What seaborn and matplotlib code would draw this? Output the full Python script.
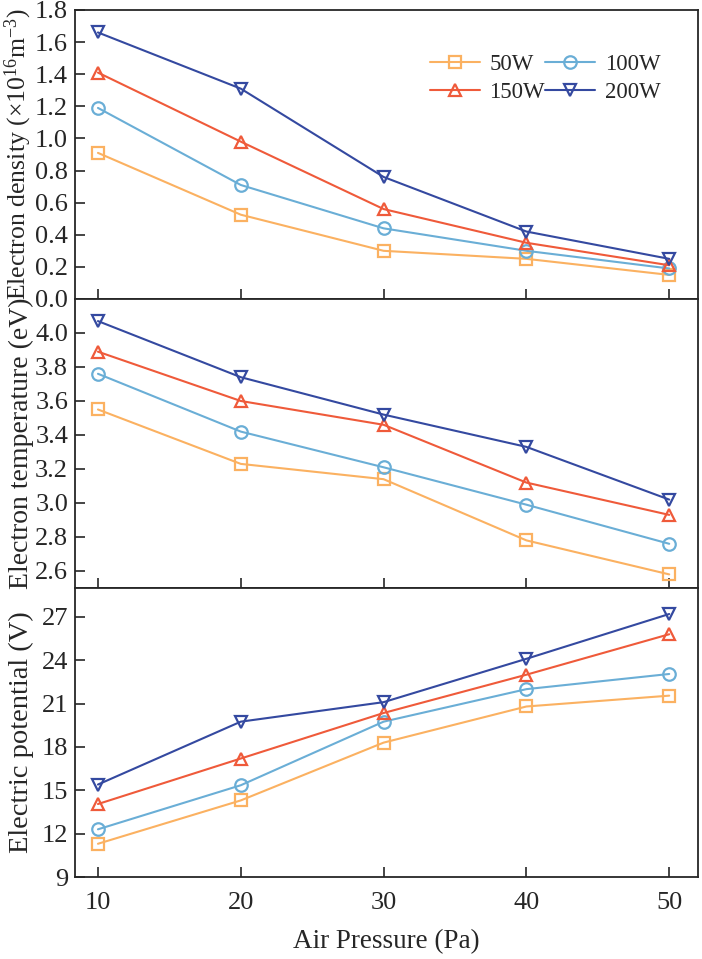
import pandas as pd
import seaborn as sns
import matplotlib.pyplot as plt

pressure = [10, 20, 30, 40, 50]
powers = ['50W', '100W', '150W', '200W']

density = {
    '50W': [0.91, 0.525, 0.30, 0.25, 0.15],
    '100W': [1.19, 0.71, 0.44, 0.30, 0.19],
    '150W': [1.41, 0.98, 0.56, 0.35, 0.21],
    '200W': [1.66, 1.31, 0.76, 0.42, 0.25],
}
temperature = {
    '50W': [3.55, 3.23, 3.14, 2.78, 2.58],
    '100W': [3.76, 3.42, 3.21, 2.99, 2.76],
    '150W': [3.89, 3.60, 3.46, 3.12, 2.93],
    '200W': [4.07, 3.74, 3.52, 3.33, 3.02],
}
potential = {
    '50W': [11.3, 14.3, 18.3, 20.8, 21.55],
    '100W': [12.3, 15.35, 19.75, 22.0, 23.05],
    '150W': [14.05, 17.2, 20.35, 23.0, 25.8],
    '200W': [15.4, 19.75, 21.1, 24.1, 27.2],
}

colors = {'50W': '#FBB161', '100W': '#6AAED6', '150W': '#EF5A3A', '200W': '#3449A0'}
markers = {'50W': 's', '100W': 'o', '150W': '^', '200W': 'v'}

sns.set_style('ticks')
plt.rcParams['font.family'] = ['Liberation Serif', 'DejaVu Serif']
plt.rcParams['mathtext.fontset'] = 'custom'
plt.rcParams['mathtext.rm'] = 'Liberation Serif'
plt.rcParams['mathtext.it'] = 'Liberation Serif:italic'

fig, axes = plt.subplots(3, 1, figsize=(7.02, 9.59), dpi=100, sharex=True)
fig.subplots_adjust(left=0.107, right=0.994, top=0.9896, bottom=0.0855, hspace=0)

panels = [
    (density, 'Electron density (×10$\\mathregular{^{16}}$m$\\mathregular{^{-3}}$)', 18.5,
     (0, 1.8), [0, 0.2, 0.4, 0.6, 0.8, 1.0, 1.2, 1.4, 1.6, 1.8], '{:.1f}'),
    (temperature, 'Electron temperature (eV)', 20,
     (2.5, 4.2), [2.6, 2.8, 3.0, 3.2, 3.4, 3.6, 3.8, 4.0], '{:.1f}'),
    (potential, 'Electric potential (V)', 20.5,
     (9, 29), [9, 12, 15, 18, 21, 24, 27], '{:d}'),
]

for ax, (data, ylabel, lsize, ylim, yticks, fmt) in zip(axes, panels):
    for p in powers:
        df = pd.DataFrame({'pressure': pressure, 'value': data[p]})
        sns.lineplot(data=df, x='pressure', y='value', ax=ax, color=colors[p],
                     marker=markers[p], markersize=9, markerfacecolor='none',
                     markeredgecolor=colors[p], markeredgewidth=1.6,
                     linewidth=1.5, label=p, legend=False)
    ax.set_ylim(*ylim)
    ax.set_yticks(yticks)
    ax.set_yticklabels([fmt.format(t) for t in yticks])
    ax.set_ylabel(ylabel, fontsize=lsize)
    ax.yaxis.set_label_coords(-0.066, 0.5)
    ax.set_xlim(8.4, 52)
    ax.set_xticks(pressure)
    ax.tick_params(direction='in', length=7, width=1.2, labelsize=19,
                   top=False, right=False)
    ax.tick_params(axis='y', pad=5)
    ax.tick_params(axis='x', pad=11)
    ax.set_xlabel('')
    for s in ax.spines.values():
        s.set_linewidth(1.3)
        s.set_visible(True)

axes[2].set_xlabel('Air Pressure (Pa)', fontsize=19.5, labelpad=11)

h, l = axes[0].get_legend_handles_labels()
order = [0, 2, 1, 3]
axes[0].legend([h[i] for i in order], [l[i] for i in order], ncol=2, frameon=False,
               loc='upper right', bbox_to_anchor=(0.973, 0.92), fontsize=16.5,
               handlelength=2.2, columnspacing=0.0, handletextpad=0.4,
               labelspacing=0.3)

fig.savefig('out.png', dpi=100)
